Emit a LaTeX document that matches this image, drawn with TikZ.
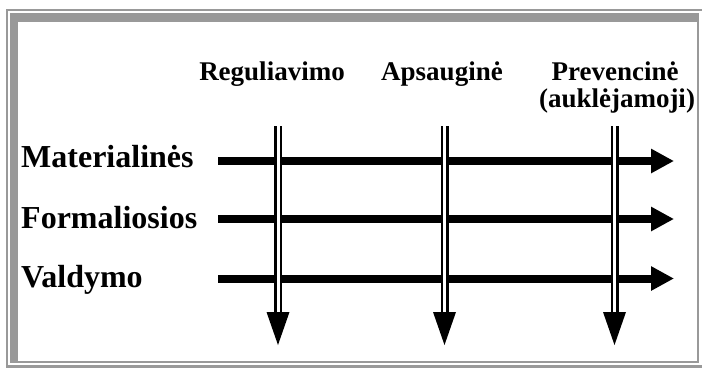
\documentclass[tikz,border=0pt]{standalone}
\usepackage{fontspec}
\setmainfont{Liberation Serif}
\usetikzlibrary{arrows.meta}
\definecolor{framegray}{HTML}{999999}
\tikzset{
  rowlbl/.style={font=\fontsize{32}{34}\selectfont\bfseries, inner sep=0pt, anchor=base west},
  collbl/.style={font=\fontsize{27}{29}\selectfont\bfseries, inner sep=0pt, anchor=base},
  harrow/.style={line width=8pt, -{Triangle[length=23pt,width=23pt]}},
  vline/.style={line width=2.5pt, double=white, double distance=3pt},
  vhead/.style={fill=black},
}
\begin{document}
\begin{tikzpicture}[x=1pt,y=-1pt]
\useasboundingbox (0,0) rectangle (702,368);
% frame
\fill[framegray] (6,9) rectangle (703,368);
\fill[white] (8,11) rectangle (702,365);
\fill[framegray] (10,13) rectangle (699,363);
\fill[white] (18,22) rectangle (697,361);
% column labels
\node[collbl] (c1) at (272,80) {Reguliavimo};
\node[collbl] (c2) at (442,80) {Apsauginė};
\node[collbl] (c3) at (615,80) {Prevencinė};
\node[collbl] (c3b) at (617,107) {(auklėjamoji)};
% row labels
\node[rowlbl] (r1) at (21,167) {Materialinės};
\node[rowlbl] (r2) at (21,228) {Formaliosios};
\node[rowlbl] (r3) at (21,287) {Valdymo};
% horizontal arrows
\foreach \i/\y in {1/161,2/219,3/278.5}{
  \coordinate (hs\i) at (218,\y);
  \coordinate (he\i) at (674,\y);
  \draw[harrow] (hs\i) -- (he\i);
}
% vertical double arrows
\foreach \j/\x in {1/278,2/444.5,3/614.5}{
  \coordinate (vt\j) at (\x,126);
  \coordinate (vb\j) at (\x,312);
  \coordinate (vp\j) at (\x,345);
  \draw[vline] (vt\j) -- (vb\j);
  \fill[vhead] ([xshift=-11.5pt]vb\j) -- ([xshift=11.5pt]vb\j) -- (vp\j) -- cycle;
}
\end{tikzpicture}
\end{document}
